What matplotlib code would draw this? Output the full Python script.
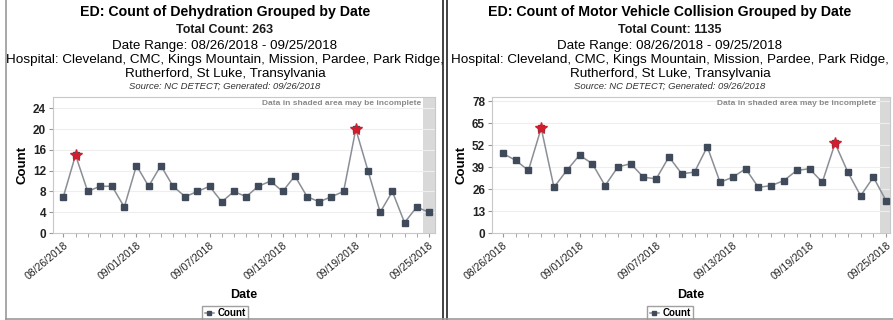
import numpy as np
import matplotlib
matplotlib.use('Agg')
import matplotlib.pyplot as plt
from matplotlib.lines import Line2D

plt.rcParams['font.family'] = ['Liberation Sans', 'DejaVu Sans']

# data
dates = ['08/26/2018', '08/27/2018', '08/28/2018', '08/29/2018', '08/30/2018',
         '08/31/2018', '09/01/2018', '09/02/2018', '09/03/2018', '09/04/2018',
         '09/05/2018', '09/06/2018', '09/07/2018', '09/08/2018', '09/09/2018',
         '09/10/2018', '09/11/2018', '09/12/2018', '09/13/2018', '09/14/2018',
         '09/15/2018', '09/16/2018', '09/17/2018', '09/18/2018', '09/19/2018',
         '09/20/2018', '09/21/2018', '09/22/2018', '09/23/2018', '09/24/2018',
         '09/25/2018']
dehydration = [7, 15, 8, 9, 9, 5, 13, 9, 13, 9, 7, 8, 9, 6, 8, 7, 9, 10, 8, 11,
               7, 6, 7, 8, 20, 12, 4, 8, 2, 5, 4]
dehydration_flags = ['08/27/2018', '09/19/2018']
mvc = [47, 43, 37, 62, 27, 37, 46, 41, 28, 39, 41, 33, 32, 45, 35, 36, 51, 30,
       33, 38, 27, 28, 31, 37, 38, 30, 53, 36, 22, 33, 19]
mvc_flags = ['08/29/2018', '09/21/2018']
dehydration_yticks = [0, 4, 8, 12, 16, 20, 24]
mvc_yticks = [0, 13, 26, 39, 52, 65, 78]

hospitals = 'Hospital: Cleveland, CMC, Kings Mountain, Mission, Pardee, Park Ridge,\nRutherford, St Luke, Transylvania'
date_range = 'Date Range: 08/26/2018 - 09/25/2018'
source = 'Source: NC DETECT; Generated: 09/26/2018'

fig = plt.figure(figsize=(8.93, 3.2), dpi=100)


def panel(rect, cx, name, values, flags, yticks, ytop, xr):
    ax = fig.add_axes(rect)
    x = np.arange(len(dates))
    ax.plot(x, values, color='#8a8f96', lw=1.1, marker='s', ms=4.0,
            mfc='#3f4a5a', mec='#3f4a5a', zorder=3, label='Count')
    fi = [dates.index(d) for d in flags]
    ax.plot(x[fi], np.array(values)[fi], ls='none', marker='*', ms=8.5,
            color='#d41c2c', zorder=4)
    ax.axvspan(len(dates) - 1.45, xr, color='#d9d9d9', zorder=1, lw=0)
    ax.set_xlim(-0.85, xr)
    ax.set_ylim(0, ytop)
    ax.set_yticks(yticks)
    ax.set_yticklabels([str(t) for t in yticks], fontsize=8.5, fontweight='bold',
                       color='#222222')
    ax.set_xticks(x, minor=True)
    ax.set_xticks(x[::6])
    ax.set_xticklabels(dates[::6], rotation=40, ha='right', rotation_mode='anchor',
                       fontsize=7.5, color='#222222')
    ax.tick_params(axis='x', which='both', length=3, color='#999999', pad=2)
    ax.tick_params(axis='y', length=3, color='#999999', pad=2)
    ax.grid(axis='y', color='#eeeeee', lw=0.8, zorder=0)
    for s in ax.spines.values():
        s.set_color('#c8c8c8')
        s.set_linewidth(0.8)
    ax.set_ylabel('Count', fontsize=9.5, fontweight='bold', labelpad=3)
    ax.set_xlabel('Date', fontsize=9, fontweight='bold', labelpad=2)
    ax.xaxis.set_label_coords(0.5, -0.41)
    ax.text(0.965, 0.975, 'Data in shaded area may be incomplete',
            transform=ax.transAxes, ha='right', va='top', fontsize=6,
            fontweight='bold', color='#8a8a8a')
    # legend sits under the middle of the whole panel, not the axes
    lx = (cx * 893 - rect[0] * 893) / (rect[2] * 893)
    ax.legend(loc='upper center', bbox_to_anchor=(lx, -0.5),
              frameon=True, edgecolor='#888888', fancybox=False,
              handlelength=1.0, handletextpad=0.3, borderpad=0.25,
              prop={'weight': 'bold', 'size': 7}, markerscale=0.6)

    fig.text(cx, 1 - 12 / 320, 'ED: Count of ' + name + ' Grouped by Date',
             ha='center', va='center', fontsize=10.2, fontweight='bold')
    fig.text(cx, 1 - 30 / 320, 'Total Count: %d' % sum(values),
             ha='center', va='center', fontsize=9, fontweight='bold',
             color='#1a1a1a')
    fig.text(cx, 1 - 46 / 320, date_range, ha='center', va='center', fontsize=9.6)
    fig.text(cx, 1 - 67 / 320, hospitals, ha='center', va='center',
             fontsize=9.7, linespacing=1.2)
    fig.text(cx, 1 - 86.5 / 320, source, ha='center', va='center', fontsize=6.8,
             style='italic', color='#333333')
    return ax


panel([53 / 893, 1 - 233 / 320, 382 / 893, 136 / 320], 225 / 893,
      'Dehydration', dehydration, dehydration_flags, dehydration_yticks, 26.2, 30.5)
panel([492 / 893, 1 - 233 / 320, 398 / 893, 136 / 320], 670 / 893,
      'Motor Vehicle Collision', mvc, mvc_flags, mvc_yticks, 80.4, 30.3)

# panel frames
W, H = 893.0, 320.0
for xs, ys, c in [([6 / W, 6 / W], [0, 1], '#999999'),
                  ([443 / W, 443 / W], [0, 1], '#222222'),
                  ([446.5 / W, 446.5 / W], [0, 1], '#222222'),
                  ([6 / W, 1], [1.5 / H, 1.5 / H], '#999999')]:
    fig.add_artist(Line2D(xs, ys, color=c, lw=1.2, transform=fig.transFigure))

fig.savefig('out.png', dpi=100)
